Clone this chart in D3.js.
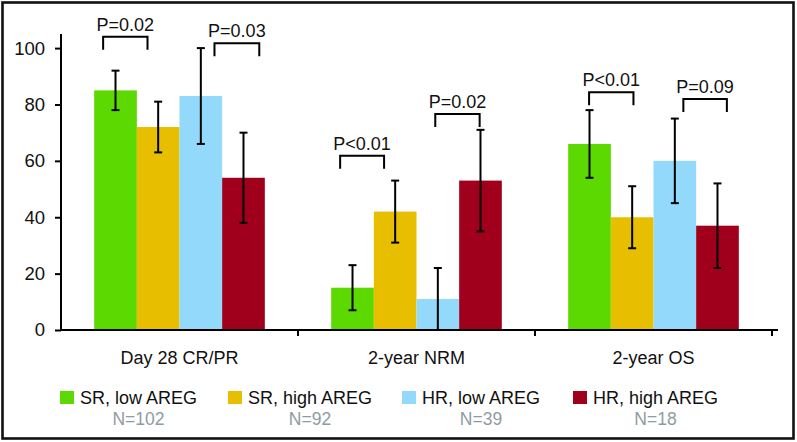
<!DOCTYPE html>
<html>
<head>
<meta charset="utf-8">
<script src="https://cdn.jsdelivr.net/npm/d3@7"></script>
<style>
  body { margin: 0; background: #fff; }
  svg { display: block; font-family: "Liberation Sans", Arial, sans-serif; }
</style>
</head>
<body>
<svg id="chart" width="797" height="442"></svg>
<script>
// outcome categories and groups
const categories = ["Day 28 CR/PR", "2-year NRM", "2-year OS"];
const groups = ["SR, low AREG", "SR, high AREG", "HR, low AREG", "HR, high AREG"];
const groupN = ["N=102", "N=92", "N=39", "N=18"];
const groupColors = ["#5cd900", "#e8bf00", "#93d9fb", "#a1001c"];

// percentages per group, one entry per category
const srLow   = [85, 15, 66];
const srHigh  = [72, 42, 40];
const hrLow   = [83, 11, 60];
const hrHigh  = [54, 53, 37];
// confidence intervals (low, high)
const srLowCI  = [[78, 92], [7, 23], [54, 78]];
const srHighCI = [[63, 81], [31, 53], [29, 51]];
const hrLowCI  = [[66, 100], [0, 22], [45, 75]];
const hrHighCI = [[38, 70], [35, 71], [22, 52]];

const yTicks = [0, 20, 40, 60, 80, 100];

// p-value brackets: category, label, level of the bracket top
const pCategory = [0, 0, 1, 1, 2, 2];
const pLabels = ["P=0.02", "P=0.03", "P<0.01", "P=0.02", "P<0.01", "P=0.09"];
const pLevel = [104, 101.7, 61.8, 76.6, 84.3, 81.9];

const values = [srLow, srHigh, hrLow, hrHigh];
const cis = [srLowCI, srHighCI, hrLowCI, hrHighCI];

const svg = d3.select("#chart");

// frame round the whole figure
svg.append("rect")
  .attr("x", 2.5).attr("y", 2.5)
  .attr("width", 791).attr("height", 436)
  .attr("fill", "none")
  .attr("stroke", "#111")
  .attr("stroke-width", 2.6);

const mLeft = 61, mRight = 772, mTop = 34, mBottom = 330;

const x = d3.scaleBand().domain(categories).range([mLeft, mRight]);
const xInner = d3.scaleBand().domain(groups)
  .range([x.bandwidth() * 0.14, x.bandwidth() * 0.86]);
const y = d3.scaleLinear().domain([0, 105]).range([mBottom, mTop]);

// bars
categories.forEach((cat, ci) => {
  const g = svg.append("g").attr("transform", "translate(" + x(cat) + ",0)");
  groups.forEach((grp, gi) => {
    g.append("rect")
      .attr("x", xInner(grp))
      .attr("y", y(values[gi][ci]))
      .attr("width", xInner.bandwidth())
      .attr("height", y(0) - y(values[gi][ci]))
      .attr("fill", groupColors[gi]);
  });
});

// error bars
categories.forEach((cat, ci) => {
  groups.forEach((grp, gi) => {
    const cx = x(cat) + xInner(grp) + xInner.bandwidth() / 2;
    const lo = cis[gi][ci][0], hi = cis[gi][ci][1];
    const e = svg.append("g").attr("stroke", "#000").attr("stroke-width", 2);
    e.append("line").attr("x1", cx).attr("x2", cx).attr("y1", y(lo)).attr("y2", y(hi));
    e.append("line").attr("x1", cx - 4).attr("x2", cx + 4).attr("y1", y(hi)).attr("y2", y(hi));
    if (lo > 0) {
      e.append("line").attr("x1", cx - 4).attr("x2", cx + 4).attr("y1", y(lo)).attr("y2", y(lo));
    }
  });
});

// y axis
const yAxis = d3.axisLeft(y).tickValues(yTicks).tickSize(6).tickPadding(10);
const ya = svg.append("g").attr("transform", "translate(" + mLeft + ",0)").call(yAxis);
ya.select(".domain").attr("d", "M0," + mTop + "V" + mBottom).attr("stroke-width", 2);
ya.selectAll(".tick line").attr("stroke-width", 2);
ya.selectAll("text").attr("font-size", 18.5).attr("fill", "#111")
  .attr("font-family", "Liberation Sans, Arial, sans-serif");

// x axis: tick marks at the category boundaries
svg.append("line")
  .attr("x1", mLeft).attr("x2", mRight + 6)
  .attr("y1", mBottom).attr("y2", mBottom)
  .attr("stroke", "#000").attr("stroke-width", 2.2);
categories.forEach((cat) => {
  const bx = x(cat) + x.bandwidth();
  svg.append("line")
    .attr("x1", bx).attr("x2", bx)
    .attr("y1", mBottom).attr("y2", mBottom + 6)
    .attr("stroke", "#000").attr("stroke-width", 2);
  svg.append("text")
    .attr("x", x(cat) + x.bandwidth() / 2)
    .attr("y", 364)
    .attr("text-anchor", "middle")
    .attr("font-size", 18)
    .attr("fill", "#111")
    .text(cat);
});

// p-value brackets (ends given in bar widths from the group start)
const pEnds = [[0.21, 1.25], [2.82, 3.87], [0.21, 1.24], [2.44, 3.48], [0.49, 1.53], [2.7, 3.72]];
pLabels.forEach((lab, i) => {
  const x0 = x(categories[pCategory[i]]) + xInner.range()[0];
  const bw = xInner.bandwidth();
  const xa = x0 + pEnds[i][0] * bw, xb = x0 + pEnds[i][1] * bw;
  const yt = y(pLevel[i]);
  svg.append("path")
    .attr("d", "M" + xa + "," + (yt + 13) + "V" + yt + "H" + xb + "V" + (yt + 13))
    .attr("fill", "none")
    .attr("stroke", "#000")
    .attr("stroke-width", 2);
  svg.append("text")
    .attr("x", (xa + xb) / 2)
    .attr("y", yt - 6)
    .attr("text-anchor", "middle")
    .attr("font-size", 18)
    .attr("fill", "#111")
    .text(lab);
});

// legend
const legendX = [60, 228, 402, 573];
groups.forEach((grp, gi) => {
  const lg = svg.append("g").attr("transform", "translate(" + legendX[gi] + ",391)");
  lg.append("rect").attr("width", 14).attr("height", 13).attr("fill", groupColors[gi]);
  const t = lg.append("text")
    .attr("x", 20).attr("y", 13)
    .attr("font-size", 18)
    .attr("fill", "#111")
    .text(grp);
  const w = t.node().getComputedTextLength();
  lg.append("text")
    .attr("x", 20 + w / 2).attr("y", 34)
    .attr("text-anchor", "middle")
    .attr("font-size", 17.5)
    .attr("fill", "#8e9ca1")
    .text(groupN[gi]);
});
</script>
</body>
</html>
